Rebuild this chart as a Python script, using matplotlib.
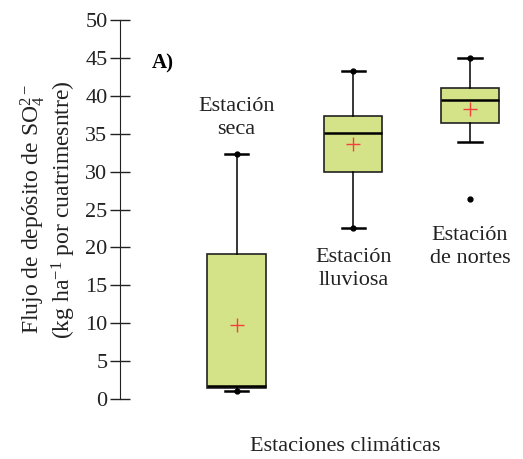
import matplotlib.pyplot as plt

plt.rcParams["font.family"] = ["Liberation Serif", "DejaVu Serif"]
plt.rcParams["mathtext.fontset"] = "custom"
plt.rcParams["mathtext.rm"] = "Liberation Serif"
plt.rcParams["mathtext.it"] = "Liberation Serif:italic"

estaciones = ["Estación\nseca", "Estación\nlluviosa", "Estación\nde nortes"]
q1 = [1.4, 30.0, 36.4]
mediana = [1.7, 35.1, 39.5]
q3 = [19.1, 37.4, 41.0]
bigote_inf = [1.0, 22.5, 33.9]
bigote_sup = [32.3, 43.3, 45.0]
media = [9.8, 33.7, 38.2]
atipicos = [[], [], [26.4]]
punto_inf = [True, True, False]
punto_sup = [True, True, True]
y_etiqueta = [34.3, 14.4, 17.3]
yticks = list(range(0, 51, 5))

stats = []
for i in range(3):
    stats.append(dict(q1=q1[i], med=mediana[i], q3=q3[i], whislo=bigote_inf[i],
                      whishi=bigote_sup[i], mean=media[i], fliers=atipicos[i]))

fig = plt.figure(figsize=(5.23, 4.59), dpi=100)
ax = fig.add_axes([0.2294, 0.1224, 0.7583, 0.8423])

pos = [1, 2, 3]
ax.bxp(stats, positions=pos, widths=0.5, showmeans=True, patch_artist=True,
       boxprops=dict(facecolor="#d5e388", edgecolor="#222222", linewidth=1.2),
       medianprops=dict(color="black", linewidth=1.8),
       whiskerprops=dict(color="black", linewidth=1.1),
       capprops=dict(color="black", linewidth=1.8),
       capwidths=0.2,
       meanprops=dict(marker="+", markeredgecolor="#f04040", markersize=10,
                      markeredgewidth=1.0),
       flierprops=dict(marker="o", markerfacecolor="black", markeredgecolor="black",
                       markersize=3.5))

for i in range(3):
    if punto_inf[i]:
        ax.plot(pos[i], bigote_inf[i], "o", color="black", markersize=3.5, clip_on=False)
    if punto_sup[i]:
        ax.plot(pos[i], bigote_sup[i], "o", color="black", markersize=3.5, clip_on=False)
    ax.text(pos[i], y_etiqueta[i], estaciones[i], ha="center", va="bottom",
            fontsize=16, color="#222222", linespacing=1.3)

ax.set_xlim(0, 3.4)
ax.set_ylim(-0.5, 50.5)
ax.set_yticks(yticks)
ax.tick_params(axis="y", direction="inout", length=14, width=1, labelsize=16,
               colors="#222222", pad=2)
ax.set_xticks([])
for s in ["top", "right", "bottom"]:
    ax.spines[s].set_visible(False)
ax.spines["left"].set_bounds(0, 50)
ax.spines["left"].set_color("#222222")

ax.text(0.27, 44.3, "A)", fontsize=15, fontweight="bold", ha="left", va="center")

ax.set_ylabel("Flujo de depósito de SO$_4^{2-}$\n(kg ha$^{-1}$ por cuatrimesntre)",
              fontsize=17, color="#222222", linespacing=1.15, labelpad=5)
fig.text(0.66, 0.028, "Estaciones climáticas", fontsize=16, ha="center",
         va="center", color="#222222")

fig.savefig("out.png", dpi=100)
